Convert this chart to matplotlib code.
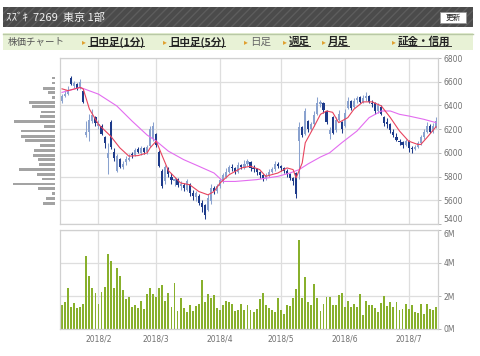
import matplotlib
matplotlib.use("Agg")
import matplotlib.pyplot as plt
from matplotlib.patches import Rectangle
from matplotlib.lines import Line2D
import numpy as np
import pandas as pd

plt.rcParams["font.family"] = ["DejaVu Sans"]
JP = ["Noto Sans CJK JP", "DejaVu Sans"]

# --------------------------------------------------------------------------- #
# Data (daily bars, 2018-01-16 .. 2018-07-13, Tokyo trading days)
# --------------------------------------------------------------------------- #
holidays = ["2018-02-12", "2018-03-21", "2018-04-30", "2018-05-03", "2018-05-04"]

opens = [6440, 6480, 6500, 6630, 6560, 6580, 6550, 6520, 6150, 6180,
         6270, 6300, 6230, 6230, 6130, 5960, 6260, 6010, 5850, 5950,
         5880, 5920, 5940, 5990, 5980, 6030, 6000, 6040, 6010, 6060,
         6120, 6160, 6010, 5850, 5760, 5870, 5800, 5760, 5780, 5720,
         5730, 5690, 5740, 5660, 5630, 5640, 5580, 5560, 5520, 5590,
         5700, 5680, 5720, 5770, 5800, 5840, 5880, 5870, 5840, 5900,
         5870, 5910, 5920, 5870, 5860, 5840, 5810, 5790, 5810, 5840,
         5860, 5910, 5890, 5870, 5850, 5820, 5790, 5830, 6100, 6220,
         6160, 6270, 6200, 6240, 6330, 6410, 6420, 6350, 6160, 6300,
         6190, 6280, 6260, 6230, 6380, 6440, 6390, 6450, 6470, 6430,
         6460, 6480, 6420, 6420, 6350, 6390, 6300, 6260, 6240, 6180,
         6130, 6100, 6090, 6070, 6100, 6040, 6030, 6050, 6080, 6130,
         6180, 6230, 6180, 6220]
highs = [6500, 6530, 6560, 6650, 6610, 6590, 6620, 6530, 6270, 6330,
         6370, 6310, 6280, 6240, 6140, 6080, 6280, 6040, 5990, 5960,
         5930, 5970, 5990, 6010, 6040, 6050, 6060, 6050, 6070, 6230,
         6260, 6170, 6020, 5860, 5900, 5880, 5830, 5800, 5790, 5760,
         5750, 5780, 5750, 5690, 5680, 5650, 5600, 5570, 5650, 5740,
         5720, 5740, 5790, 5830, 5870, 5900, 5910, 5880, 5920, 5910,
         5940, 5950, 5930, 5900, 5870, 5850, 5820, 5830, 5860, 5880,
         5930, 5920, 5900, 5880, 5860, 5830, 5800, 5840, 6260, 6230,
         6380, 6280, 6260, 6350, 6470, 6450, 6430, 6360, 6220, 6310,
         6300, 6360, 6270, 6370, 6470, 6450, 6460, 6480, 6480, 6490,
         6510, 6490, 6450, 6430, 6420, 6400, 6310, 6290, 6250, 6200,
         6170, 6120, 6100, 6120, 6110, 6060, 6070, 6100, 6150, 6200,
         6260, 6240, 6250, 6300]
lows = [6420, 6470, 6490, 6570, 6550, 6530, 6540, 6420, 6130, 6100,
        6250, 6230, 6200, 6150, 6040, 5820, 6030, 5930, 5840, 5870,
        5860, 5900, 5930, 5960, 5970, 6000, 5980, 5990, 5990, 6050,
        6100, 6050, 5880, 5700, 5740, 5800, 5740, 5720, 5710, 5690,
        5680, 5680, 5640, 5600, 5590, 5560, 5500, 5440, 5510, 5570,
        5650, 5660, 5700, 5750, 5790, 5830, 5850, 5820, 5830, 5860,
        5860, 5890, 5850, 5840, 5810, 5790, 5760, 5770, 5800, 5830,
        5850, 5870, 5850, 5830, 5800, 5770, 5730, 5620, 5780, 6130,
        6150, 6180, 6190, 6230, 6320, 6390, 6340, 6240, 6120, 6160,
        6180, 6270, 6170, 6220, 6370, 6360, 6380, 6420, 6420, 6420,
        6440, 6420, 6390, 6330, 6340, 6320, 6230, 6210, 6170, 6130,
        6100, 6070, 6040, 6060, 6010, 6000, 6020, 6040, 6070, 6120,
        6170, 6170, 6170, 6210]
closes = [6480, 6500, 6530, 6580, 6590, 6540, 6600, 6430, 6180, 6280,
          6320, 6250, 6240, 6160, 6080, 6000, 6050, 5960, 5970, 5880,
          5910, 5950, 5960, 5980, 6020, 6010, 6040, 6010, 6050, 6200,
          6230, 6070, 5890, 5720, 5880, 5820, 5770, 5780, 5730, 5740,
          5700, 5760, 5660, 5640, 5660, 5580, 5540, 5480, 5620, 5700,
          5680, 5720, 5770, 5810, 5840, 5880, 5870, 5840, 5900, 5880,
          5910, 5930, 5870, 5860, 5840, 5810, 5790, 5810, 5840, 5860,
          5910, 5890, 5870, 5850, 5820, 5790, 5760, 5650, 6220, 6150,
          6350, 6200, 6240, 6320, 6420, 6430, 6360, 6260, 6190, 6170,
          6280, 6330, 6200, 6340, 6440, 6380, 6440, 6460, 6430, 6460,
          6480, 6430, 6410, 6350, 6400, 6330, 6250, 6240, 6190, 6150,
          6110, 6090, 6070, 6100, 6040, 6030, 6050, 6080, 6130, 6180,
          6230, 6180, 6230, 6270]

# volume, millions of shares
volumes = [1.45, 1.65, 2.50, 1.33, 1.57, 1.29, 1.33, 1.53, 4.44, 3.19,
           2.46, 2.16, 1.53, 2.26, 2.54, 4.52, 4.11, 2.46, 3.69, 3.21,
           2.34, 1.79, 1.96, 1.31, 1.45, 1.27, 1.71, 1.23, 2.10, 2.46,
           2.12, 1.96, 2.46, 2.66, 1.67, 2.16, 1.35, 2.78, 1.09, 1.88,
           1.29, 1.05, 1.45, 1.09, 1.39, 1.53, 2.96, 1.63, 2.12, 1.90,
           2.06, 1.25, 1.15, 1.45, 1.69, 1.61, 1.49, 1.09, 1.17, 1.49,
           1.13, 1.45, 1.13, 1.01, 1.21, 1.79, 2.16, 1.45, 1.29, 1.13,
           1.05, 1.85, 1.13, 0.89, 1.45, 1.41, 1.85, 2.42, 5.38, 1.85,
           3.17, 1.61, 1.45, 2.70, 1.85, 1.09, 1.49, 1.96, 1.92, 1.43,
           1.45, 2.06, 2.16, 1.35, 1.69, 1.33, 1.49, 1.33, 2.10, 0.85,
           1.69, 1.45, 1.45, 1.29, 1.05, 1.55, 2.02, 1.41, 1.65, 1.33,
           1.65, 1.13, 1.21, 1.49, 1.21, 1.45, 1.01, 0.97, 1.49, 0.89,
           1.53, 1.21, 1.17, 1.33]

# moving averages: (trading-day index, price)
ma_short_day = [0, 2, 6, 7, 9, 12, 16, 19, 22, 25, 28, 29, 31, 33, 35, 39, 42,
                45, 48, 50, 52, 55, 59, 62, 65, 67, 71, 74, 76, 77, 79, 80, 83,
                85, 87, 89, 91, 94, 96, 99, 102, 105, 108, 111, 114, 117, 118,
                120, 123]
ma_short = [6540, 6525, 6552, 6538, 6370, 6240, 6141, 6043, 5972, 5977, 6000,
            6043, 6099, 5972, 5850, 5746, 5731, 5674, 5646, 5674, 5746, 5816,
            5873, 5887, 5859, 5802, 5830, 5873, 5859, 5788, 5915, 6085, 6226,
            6325, 6353, 6342, 6255, 6297, 6368, 6430, 6430, 6396, 6297, 6184,
            6099, 6071, 6071, 6128, 6220]
ma_long_day = [0, 6, 12, 18, 23, 28, 31, 35, 40, 45, 50, 53, 57, 64, 71, 75,
               78, 81, 85, 88, 92, 97, 101, 105, 108, 111, 114, 119, 123]
ma_long = [6510, 6552, 6495, 6396, 6269, 6150, 6099, 6014, 5943, 5887, 5830,
           5759, 5759, 5774, 5802, 5830, 5859, 5908, 5965, 6000, 6085, 6184,
           6297, 6353, 6353, 6325, 6311, 6283, 6255]

# volume-by-price profile (left side)
profile_price = [6631, 6589, 6546, 6510, 6467, 6425, 6388, 6345, 6306, 6264,
                 6224, 6184, 6141, 6105, 6062, 6022, 5980, 5943, 5901, 5858,
                 5816, 5780, 5737, 5697, 5655, 5615, 5576]
profile_vol = [8, 8, 35, 20, 8, 75, 66, 41, 43, 121, 30, 99, 98, 88, 43, 61,
               63, 50, 47, 105, 51, 38, 123, 50, 8, 26, 33]

nav_links = ["日中足(1分)", "日中足(5分)", "日足", "週足", "月足", "証金・信用"]
nav_x = [88, 169, 250, 289, 328, 398]

# --------------------------------------------------------------------------- #
# Figure
# --------------------------------------------------------------------------- #
W, H = 480, 356
fig = plt.figure(figsize=(W / 100, H / 100), dpi=100)
fig.patch.set_facecolor("white")


def fx(x):
    return x / W


def fy(y):
    return 1 - y / H


# header bar
fig.add_artist(Rectangle((fx(3), fy(27)), fx(470), 20 / H, transform=fig.transFigure,
                         facecolor="#4b4b4b", edgecolor="#5d5d5d", hatch="////", lw=0))
fig.text(fx(6), fy(17.5), "ｽｽﾞｷ  7269  東京 1部", family=JP, fontsize=8,
         color="#f0f0f0", va="center")
fig.add_artist(Rectangle((fx(440), fy(23)), fx(26), 11 / H, transform=fig.transFigure,
                         facecolor="white", edgecolor="#999999", lw=0.6))
fig.text(fx(453), fy(17.5), "更新", family=JP, fontsize=5.5, color="#222222",
         ha="center", va="center")

# nav bar
fig.add_artist(Rectangle((fx(3), fy(50)), fx(470), 17 / H, transform=fig.transFigure,
                         facecolor="#e8f2d6", edgecolor="none"))
fig.add_artist(Line2D([fx(3), fx(473)], [fy(33.5), fy(33.5)], color="#b9c9a6", lw=1))
fig.text(fx(8), fy(42), "株価チャート", family=JP, fontsize=6.8, color="#555555",
         va="center")
link_texts = []
for label, x in zip(nav_links, nav_x):
    fig.text(fx(x - 6), fy(42), "▸", fontsize=5.5, color="#e0a030", va="center")
    plain = label == "日足"
    t = fig.text(fx(x), fy(42), label, family=JP, fontsize=7.6,
                 fontweight="normal" if plain else "bold",
                 color="#666666" if plain else "#222222", va="center")
    if not plain:
        link_texts.append(t)

# trading calendar
dates = pd.bdate_range("2018-01-16", "2018-07-13")
dates = dates[~dates.isin(pd.to_datetime(holidays))]
idx = np.arange(len(dates))
month_idx = [i for i in range(1, len(dates)) if dates[i].month != dates[i - 1].month]
month_lbl = [f"{dates[i].year}/{dates[i].month}" for i in month_idx]

o = np.array(opens)
h = np.array(highs)
l = np.array(lows)
c = np.array(closes)
up = c >= o
UP, DN = "#8aa2cf", "#1d3a8a"
cols = np.where(up, UP, DN)

GRID = "#dedede"
TICK = "#707070"
xlim = (-0.66, len(dates) - 0.34)

# price panel
ax = fig.add_axes([fx(60), fy(224), fx(378), 166 / H])
ax.set_xlim(*xlim)
ax.set_ylim(5400, 6800)
ax.set_xticks(month_idx)
ax.set_yticks(range(5400, 6801, 200))
ax.yaxis.tick_right()
ax.tick_params(axis="x", length=0, labelbottom=False)
ax.tick_params(axis="y", length=2.5, width=0.6, color="#aaaaaa", labelsize=5.5,
               labelcolor=TICK, pad=1.5)
ax.grid(color=GRID, lw=0.9)
ax.set_axisbelow(True)
for s in ax.spines.values():
    s.set_color("#d0d0d0")
    s.set_linewidth(0.9)

ax.vlines(idx, l, h, colors=cols, lw=0.75, zorder=2)
body = np.maximum(np.abs(c - o), 8)
ax.bar(idx, body, bottom=np.minimum(o, c), width=0.7, color=cols, lw=0, zorder=3)
ax.plot(ma_long_day, ma_long, color="#e36cf0", lw=0.8, zorder=4)
ax.plot(ma_short_day, ma_short, color="#e8445e", lw=0.8, zorder=4)

# volume-by-price profile
axp = fig.add_axes([fx(11), fy(224), fx(43.5), 166 / H])
axp.barh(profile_price, profile_vol, height=24, color="#a3a3a3", lw=0)
axp.set_xlim(129, 0)
axp.set_ylim(5400, 6800)
axp.axis("off")

# volume panel
axv = fig.add_axes([fx(60), fy(329), fx(378), 99 / H])
vol = np.array(volumes) * 1e6
axv.bar(idx, vol, width=0.62, color="#88b02c", lw=0)
axv.set_xlim(*xlim)
axv.set_ylim(0, 6e6)
axv.set_yticks([0, 2e6, 4e6, 6e6])
axv.set_yticklabels(["0M", "2M", "4M", "6M"])
axv.yaxis.tick_right()
axv.set_xticks(month_idx)
axv.set_xticklabels(month_lbl)
axv.tick_params(axis="x", length=0, labelsize=5.5, labelcolor=TICK, pad=4)
axv.tick_params(axis="y", length=2.5, width=0.6, color="#aaaaaa", labelsize=5.5,
                labelcolor=TICK, pad=1.5)
axv.grid(color=GRID, lw=0.9)
axv.set_axisbelow(True)
for s in axv.spines.values():
    s.set_color("#d0d0d0")
    s.set_linewidth(0.9)

# keep the bottom price label and the top volume label apart
ax.get_yticklabels()[0].set_va("bottom")
axv.get_yticklabels()[-1].set_va("top")

# underline nav links
fig.canvas.draw()
inv = fig.transFigure.inverted()
for t in link_texts:
    bb = t.get_window_extent()
    (x0, y0), (x1, _) = inv.transform([(bb.x0, bb.y0), (bb.x1, bb.y1)])
    fig.add_artist(Line2D([x0, x1], [y0 + 1.2 / H, y0 + 1.2 / H], color="#333333", lw=0.7))

fig.savefig("out.png", dpi=100, facecolor="white")
